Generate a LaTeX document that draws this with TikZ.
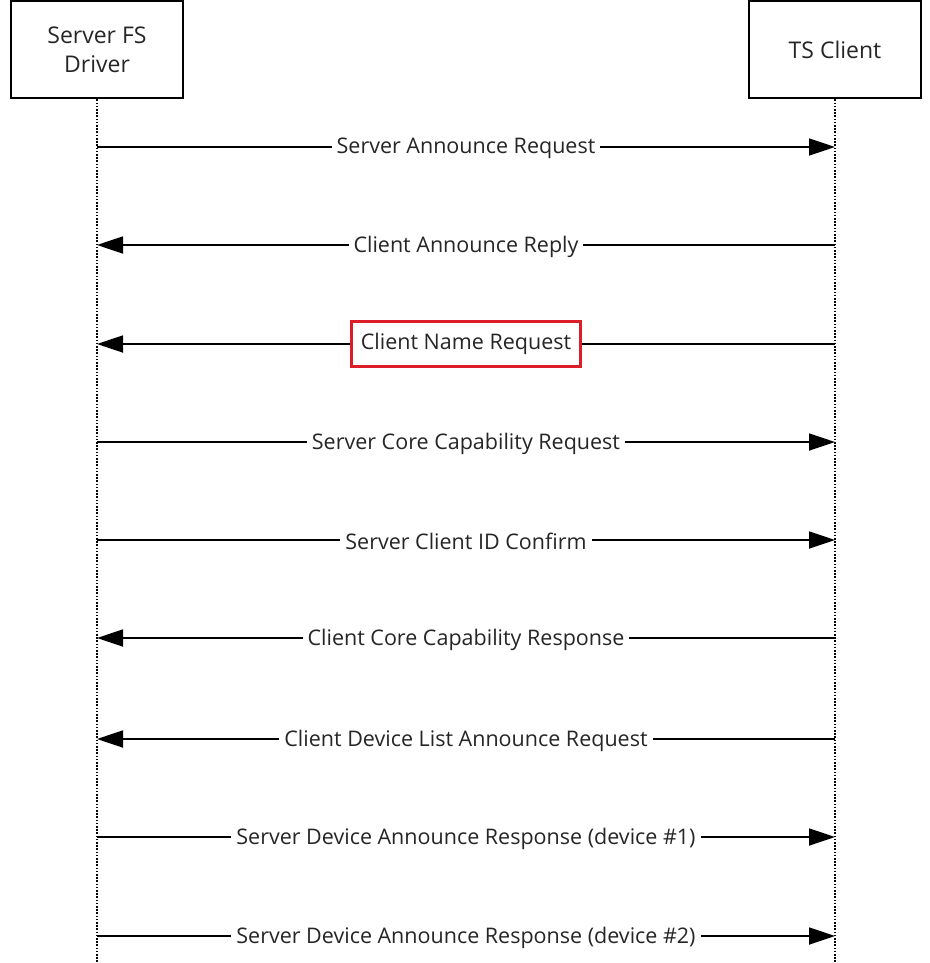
\documentclass[tikz,border=0pt]{standalone}
\usepackage{fontspec}
\setmainfont{Open Sans}
\usetikzlibrary{arrows.meta}
\definecolor{markred}{RGB}{220,30,40}
\tikzset{
  actor/.style={draw, line width=2pt, minimum width=172pt, minimum height=97pt, align=center, font=\fontsize{23}{29}\selectfont, text=black!85},
  lifeline/.style={line width=1.6pt, dash pattern=on 1.6pt off 1.6pt},
  msg/.style={line width=1.8pt, -{Triangle[length=26pt, width=17pt]}},
  msglabel/.style={fill=white, inner xsep=5pt, inner ysep=2pt, yshift=-1.5pt, font=\fontsize{21.5}{26}\selectfont, text=black!85},
  marked/.style={msglabel, draw=markred, line width=3pt, inner xsep=9pt, minimum height=45pt, yshift=1.5pt}
}
\begin{document}
\begin{tikzpicture}[x=1pt, y=1pt]
\useasboundingbox (0,0) rectangle (929,-963);
\node[actor] (srv) at (97,-50){Server FS\\Driver};
\node[actor] (cli) at (835,-50){TS Client};
\coordinate (srvend) at (97,-963);
\coordinate (cliend) at (835,-963);
\draw[lifeline] (srv) -- (srvend);
\draw[lifeline] (cli) -- (cliend);
% messages
\coordinate (s1) at (97,-147);
\coordinate (c1) at (835,-147);
\draw[msg] (s1) -- (c1);
\node[msglabel] (m1) at (466,-147){Server Announce Request};
\coordinate (s2) at (97,-245);
\coordinate (c2) at (835,-245);
\draw[msg] (c2) -- (s2);
\node[msglabel] (m2) at (466,-245){Client Announce Reply};
\coordinate (s3) at (97,-344);
\coordinate (c3) at (835,-344);
\draw[msg] (c3) -- (s3);
\node[marked] (m3) at (466,-344){Client Name Request};
\coordinate (s4) at (97,-442);
\coordinate (c4) at (835,-442);
\draw[msg] (s4) -- (c4);
\node[msglabel] (m4) at (466,-442){Server Core Capability Request};
\coordinate (s5) at (97,-540);
\coordinate (c5) at (835,-540);
\draw[msg] (s5) -- (c5);
\node[msglabel] (m5) at (466,-540){Server Client ID Confirm};
\coordinate (s6) at (97,-638);
\coordinate (c6) at (835,-638);
\draw[msg] (c6) -- (s6);
\node[msglabel] (m6) at (466,-638){Client Core Capability Response};
\coordinate (s7) at (97,-739);
\coordinate (c7) at (835,-739);
\draw[msg] (c7) -- (s7);
\node[msglabel] (m7) at (466,-739){Client Device List Announce Request};
\coordinate (s8) at (97,-837);
\coordinate (c8) at (835,-837);
\draw[msg] (s8) -- (c8);
\node[msglabel] (m8) at (466,-837){Server Device Announce Response (device \#1)};
\coordinate (s9) at (97,-936);
\coordinate (c9) at (835,-936);
\draw[msg] (s9) -- (c9);
\node[msglabel] (m9) at (466,-936){Server Device Announce Response (device \#2)};
\end{tikzpicture}
\end{document}
